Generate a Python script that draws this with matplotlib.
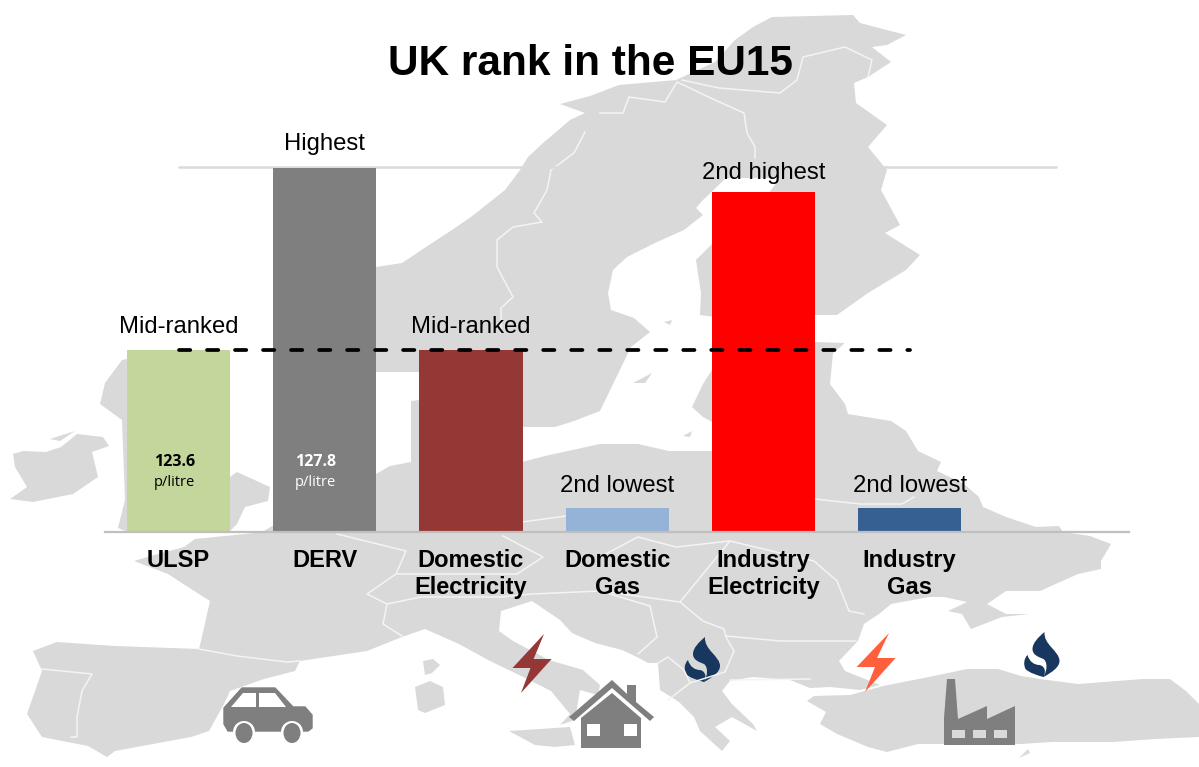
"""UK rank in the EU15: bars drawn over a grey map of Europe with small icons."""

import matplotlib

matplotlib.use("Agg")
import matplotlib.pyplot as plt
from matplotlib.patches import Circle, Ellipse, PathPatch, Polygon, Rectangle
from matplotlib.path import Path
from matplotlib.transforms import Affine2D

W, H = 1199, 767

CATEGORIES = ["ULSP", "DERV", "Domestic\nElectricity", "Domestic\nGas", "Industry\nElectricity", "Industry\nGas"]
RANK_VALUES = [7.5, 15, 7.5, 1, 14, 1]
RANK_LABELS = ["Mid-ranked", "Highest", "Mid-ranked", "2nd lowest", "2nd highest", "2nd lowest"]
LABEL_GAPS = [12, 13, 12, 11, 8, 11]
BAR_COLORS = ["#c3d69b", "#7f7f7f", "#953735", "#95b3d7", "#ff0000", "#376092"]
TOP_RANK = 15.06
MID_RANK = 7.52
PRICE_VALUES = ["123.6", "127.8"]
PRICE_UNIT = "p/litre"
PRICE_COLORS = ["black", "white"]

C_MAP = "#d9d9d9"
C_ICON = "#7f7f7f"
C_NAVY = "#17375e"

# Map outlines, traced in pixels of the picture.
SCANDINAVIA = [
    (376, 267), (402, 263), (432, 243), (452, 230), (471, 217), (505, 190), (520, 170), (528, 157),
    (543, 143), (555, 133), (570, 120), (585, 113), (560, 104), (590, 96), (619, 85), (676, 80),
    (715, 62), (735, 40), (753, 27), (772, 17), (853, 15), (860, 23), (906, 35), (887, 45), (872, 47),
    (891, 62), (868, 77), (854, 83), (856, 103), (887, 125), (868, 147), (887, 170), (881, 190),
    (900, 225), (885, 233), (920, 255), (906, 270), (868, 293), (837, 315), (814, 315), (715, 317),
    (700, 315), (701, 293), (696, 260), (713, 243), (760, 205), (780, 178), (726, 178), (703, 200),
    (696, 208), (703, 215), (684, 230), (657, 242), (627, 257), (613, 270), (608, 293), (611, 310),
    (634, 318), (650, 332), (631, 347), (615, 380), (600, 411), (574, 421), (555, 427), (524, 427),
    (500, 400), (419, 372), (376, 372), (330, 340), (330, 280),
]
CONTINENT = [
    (262, 532), (300, 510), (376, 474), (390, 466), (411, 462), (411, 401), (419, 400), (440, 440),
    (522, 462), (545, 456), (600, 444), (638, 444), (669, 451), (712, 451), (718, 425), (703, 417),
    (692, 407), (703, 384), (715, 365), (815, 342), (845, 343), (833, 353), (830, 384), (845, 404),
    (848, 414), (891, 421), (906, 431), (918, 451), (941, 462), (937, 471), (964, 484), (979, 497),
    (983, 507), (1006, 517), (1036, 527), (1059, 526), (1063, 532), (1090, 536), (1111, 544),
    (1101, 561), (1101, 569), (1078, 574), (1040, 591), (1006, 591), (987, 604), (1006, 614),
    (1029, 614), (1002, 617), (971, 629), (962, 614), (948, 611), (967, 602), (944, 597), (929, 597),
    (891, 604), (879, 614), (864, 624), (858, 641), (839, 661), (845, 671), (860, 677), (880, 685),
    (860, 690), (830, 687), (810, 688), (790, 680), (753, 677), (730, 681), (722, 691), (732, 704),
    (753, 724), (757, 731), (732, 717), (715, 727), (730, 741), (722, 751), (700, 731), (694, 717),
    (679, 702), (660, 690), (658, 663), (648, 663), (637, 657), (622, 650), (595, 643), (572, 633),
    (560, 620), (532, 601), (501, 611), (499, 631), (513, 641), (549, 660), (583, 670), (600, 685),
    (598, 695), (580, 690), (575, 720), (560, 725), (570, 714), (551, 691), (517, 674), (490, 661),
    (459, 644), (425, 629), (402, 637), (367, 651), (300, 661), (295, 671), (264, 679), (230, 691),
    (224, 704), (209, 731), (191, 737), (115, 751), (107, 757), (88, 746), (42, 737), (27, 714),
    (42, 671), (33, 651), (57, 642), (115, 646), (199, 649), (201, 641), (210, 601), (188, 587),
    (168, 574), (134, 561), (151, 556), (184, 547), (195, 539), (245, 534),
]
TURKEY = [
    (807, 701), (814, 696), (850, 695), (883, 686), (929, 677), (967, 669), (998, 669), (1021, 676),
    (1040, 679), (1078, 684), (1143, 679), (1170, 679), (1186, 691), (1199, 704), (1199, 737),
    (1155, 739), (1113, 742), (1052, 742), (1021, 744), (944, 744), (918, 744), (887, 752),
    (868, 747), (837, 734), (820, 724), (826, 712),
]
BRITAIN = [
    (122, 360), (105, 383), (100, 404), (122, 420), (125, 500), (118, 528), (128, 532), (230, 531),
    (237, 524), (245, 507), (268, 501), (270, 487), (237, 472), (230, 477), (200, 400), (170, 350),
]
IRELAND = [
    (13, 454), (23, 451), (46, 452), (61, 447), (77, 434), (103, 437), (109, 446), (92, 452), (98, 477),
    (73, 494), (33, 502), (10, 499), (27, 487), (15, 467),
]
ISLANDS = [
    [(50, 439), (75, 431), (60, 441)],
    [(509, 731), (570, 727), (575, 745), (555, 747), (535, 745)],
    [(415, 687), (430, 681), (443, 687), (445, 705), (425, 713), (418, 710)],
    [(423, 661), (433, 659), (440, 665), (432, 673), (425, 675)],
    [(633, 383), (652, 373), (645, 383)],
    [(664, 322), (672, 320), (670, 325)],
    [(683, 436), (692, 431), (690, 437)],
    [(1019, 758), (1028, 749), (1030, 753)],
]
BORDERS = [
    [(585, 132), (574, 153), (551, 170), (547, 190), (534, 213), (542, 222), (513, 227), (497, 240),
     (497, 267), (513, 297), (501, 308), (501, 333)],
    [(600, 113), (623, 113), (629, 97), (665, 102), (677, 82), (715, 100), (744, 113), (747, 133),
     (755, 147), (755, 158)],
    [(682, 80), (719, 88), (780, 93), (797, 80), (803, 57), (845, 47), (872, 60), (868, 77)],
    [(199, 649), (237, 656), (287, 662), (300, 661)],
    [(42, 669), (92, 674), (82, 691), (77, 717), (77, 737), (71, 737)],
    [(337, 534), (406, 551), (396, 574), (367, 594), (387, 604), (383, 624), (402, 636)],
    [(396, 574), (459, 574), (517, 574)],
    [(387, 604), (421, 597), (459, 597), (501, 597), (532, 594), (600, 591), (650, 606)],
    [(503, 536), (543, 557), (517, 574)],
    [(522, 522), (566, 516)],
    [(600, 557), (638, 537), (676, 547), (730, 541)],
    [(730, 541), (814, 561), (837, 581), (849, 611), (864, 614)],
    [(815, 499), (860, 504), (902, 504), (914, 497)],
    [(650, 606), (657, 637), (638, 654)],
    [(680, 602), (703, 621), (724, 629), (726, 637), (734, 651), (725, 672), (690, 683)],
    [(726, 636), (780, 641), (856, 641)],
    [(730, 680), (810, 679)],
    [(658, 663), (668, 657), (684, 670), (690, 683), (668, 700)],
    [(600, 591), (680, 602), (730, 541)],
]

CAR_BODY = [
    (224, 708), (242, 688), (275, 688), (293, 707), (305, 707), (312, 715), (312, 728), (308, 731),
    (228, 731), (224, 724),
]
CAR_WINDOWS = [
    [(231, 707), (243, 693), (256, 693), (256, 707)],
    [(259, 693), (275, 693), (286, 707), (259, 707)],
]
CAR_WHEELS = [(244, 733), (292, 733)]
HOUSE_ROOF = [
    (612, 680), (627, 694), (627, 685), (636, 685), (636, 702), (654, 717), (650, 721), (612, 688),
    (574, 721), (569, 717),
]
HOUSE_BODY = [(612, 693), (641, 718), (641, 748), (581, 748), (581, 718)]
HOUSE_WINDOWS = [587, 624]
FACTORY = [
    (944, 745), (944, 718), (947, 679), (955, 679), (958, 719), (987, 706), (987, 719), (1015, 706),
    (1015, 745),
]
FACTORY_WINDOWS = [952, 973, 994]
BOLTS = [
    ("#953735", [(544, 634), (512.5, 668), (530.5, 668), (521, 693), (551.6, 659), (533.6, 659)]),
    ("#ff5f3a", [(889, 633), (856.6, 667), (875, 667), (865, 692), (895.6, 658), (877, 658)]),
]
FLAME_OFFSETS = [(675, 630), (1014.5, 625)]


def flame_path():
    c = Path.CURVE4
    verts = [
        (30, 7), (24, 12), (18, 18), (18, 24), (18, 30), (24, 32), (29, 34), (33, 37), (33, 45), (29, 52),
        (38, 47), (45, 42), (45, 36), (45, 26), (29, 20), (30, 7),
        (13, 30), (9, 34), (9, 40), (11, 44), (15, 48), (22, 50), (29, 52), (32, 46), (30, 41), (25, 40),
        (20, 40), (15, 37), (13, 30),
    ]
    codes = [Path.MOVETO] + [c] * 15 + [Path.MOVETO] + [c] * 12
    return Path(verts, codes)


plt.rcParams["font.family"] = ["Liberation Sans", "DejaVu Sans"]
fig = plt.figure(figsize=(W / 100, H / 100), dpi=100)

# background axes in picture pixels: the map and the icons
bg = fig.add_axes([0, 0, 1, 1], zorder=0)
bg.set_xlim(0, W)
bg.set_ylim(H, 0)
bg.axis("off")

for outline in [SCANDINAVIA, CONTINENT, TURKEY, BRITAIN, IRELAND] + ISLANDS:
    bg.add_patch(Polygon(outline, closed=True, fc=C_MAP, ec="none"))
for border in BORDERS:
    xs, ys = zip(*border)
    bg.plot(xs, ys, color="#f4f4f4", lw=1.1, solid_joinstyle="round")

bg.add_patch(Polygon(CAR_BODY, fc=C_ICON, ec=C_ICON, lw=1, joinstyle="round"))
for window in CAR_WINDOWS:
    bg.add_patch(Polygon(window, fc="white", ec="none"))
for wx, wy in CAR_WHEELS:
    bg.add_patch(Circle((wx, wy - 1), 11, fc="white", ec="none"))
    bg.add_patch(Ellipse((wx, wy), 17, 20, fc=C_ICON, ec="none"))

bg.add_patch(Polygon(HOUSE_ROOF, fc=C_ICON, ec="none"))
bg.add_patch(Polygon(HOUSE_BODY, fc=C_ICON, ec="none"))
for wx in HOUSE_WINDOWS:
    bg.add_patch(Rectangle((wx, 724), 12.5, 12, fc="white", ec="none"))

bg.add_patch(Polygon(FACTORY, fc=C_ICON, ec="none"))
for wx in FACTORY_WINDOWS:
    bg.add_patch(Rectangle((wx, 730), 13, 8, fc=C_MAP, ec="none"))

for color, bolt in BOLTS:
    bg.add_patch(Polygon(bolt, fc=color, ec="none"))
for ox, oy in FLAME_OFFSETS:
    bg.add_patch(PathPatch(flame_path(), fc=C_NAVY, ec="none",
                           transform=Affine2D().translate(ox, oy) + bg.transData))

# chart axes: one unit of x is one bar slot, y is the rank
ax = fig.add_axes([105 / W, 1 - 532 / H, (1129 - 105) / W, (532 - 168) / H], zorder=1)
ax.patch.set_alpha(0)
ax.set_xlim(-0.503, 6.5)
ax.set_ylim(0, 15)
for side in ("top", "left", "right"):
    ax.spines[side].set_visible(False)
ax.spines["bottom"].set_color("#bfbfbf")
ax.spines["bottom"].set_linewidth(1.6)
ax.set_yticks([])

x = list(range(len(CATEGORIES)))
ax.plot([0, 6], [TOP_RANK, TOP_RANK], color=C_MAP, lw=1.8, clip_on=False, zorder=1, solid_capstyle="round")
ax.bar(x, RANK_VALUES, width=0.705, color=BAR_COLORS, zorder=2)
ax.plot([0, 5], [MID_RANK, MID_RANK], color="black", lw=2.7, dashes=(3, 4.47), dash_capstyle="round",
        clip_on=False, zorder=3)

ax.set_xticks(x)
ax.set_xticklabels(CATEGORIES, fontsize=17, fontweight="bold", linespacing=1.22)
ax.tick_params(axis="x", length=0, pad=12)

for xi, val, lab, gap in zip(x, RANK_VALUES, RANK_LABELS, LABEL_GAPS):
    ax.annotate(lab, (xi, val), xytext=(0, gap), textcoords="offset pixels", ha="center", va="bottom",
                fontsize=17.2, zorder=4)

for xi, price, color, dx in zip(x, PRICE_VALUES, PRICE_COLORS, (-0.03, -0.065)):
    ax.text(xi + dx, 2.88, price, ha="center", va="center", fontsize=11.5, fontweight="bold",
            color=color, family="Open Sans")
    ax.text(xi + dx, 2.02, PRICE_UNIT, ha="center", va="center", fontsize=10.5,
            color=color, family="Open Sans")

fig.text(590.5 / W, 1 - 64 / H, "UK rank in the EU15", ha="center", va="center", fontsize=30.5, fontweight="bold",
         zorder=5)

fig.savefig("out.png", dpi=100)
plt.close(fig)
